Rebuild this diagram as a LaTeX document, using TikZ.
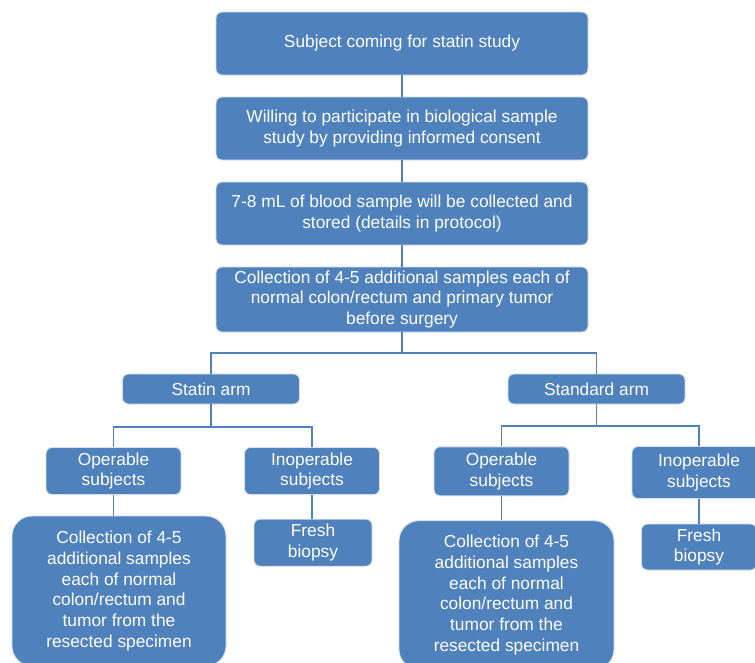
\documentclass[tikz,border=0pt]{standalone}
\usepackage{fontspec}
\setmainfont{Liberation Sans}
\definecolor{BoxBlue}{RGB}{79,129,189}
\usetikzlibrary{positioning,calc}
\tikzset{>=latex}
\tikzset{mybox/.style={rectangle,rounded corners=4.5pt,fill=BoxBlue,draw=white!75!BoxBlue,line width=.7pt,text=white,align=center,inner sep=2pt,font=\fontsize{13}{15.6}\selectfont}}
\tikzset{bigbox/.style={mybox,rounded corners=15pt}}
\tikzset{myedges/.style={draw=BoxBlue,line width=1.4pt}}
\begin{document}
\begin{tikzpicture}[x=0.75pt,y=-0.75pt]
    \clip (0,0) rectangle (755,662);
    % main column
    \node[mybox, minimum width=279pt, minimum height=47.25pt] (subj) at (402,43.5) {Subject coming for statin study};
    \node[mybox, minimum width=279pt, minimum height=47.25pt] (will) at (402,128.5) {Willing to participate in biological sample\\study by providing informed consent};
    \node[mybox, minimum width=279pt, minimum height=47.25pt] (blood) at (402,213.5) {7-8 mL of blood sample will be collected and\\stored (details in protocol)};
    \node[mybox, minimum width=279pt, minimum height=48.75pt] (coll) at (402,299.5) {Collection of 4-5 additional samples each of\\normal colon/rectum and primary tumor\\before surgery};
    % arms
    \node[mybox, minimum width=132.75pt, minimum height=22.5pt] (statin) at (211,389) {Statin arm};
    \node[mybox, minimum width=132.75pt, minimum height=22.5pt] (standard) at (596.5,389) {Standard arm};
    % statin arm
    \node[mybox, minimum width=101.25pt, minimum height=35.25pt] (opS) at (113.5,471) {Operable\\subjects};
    \node[mybox, minimum width=101.25pt, minimum height=35.25pt] (inopS) at (312,471) {Inoperable\\subjects};
    \node[bigbox, minimum width=160.5pt, minimum height=112.5pt] (resS) at (119,591) {Collection of 4-5\\additional samples\\each of normal\\colon/rectum and\\tumor from the\\resected specimen};
    \node[mybox, minimum width=88.5pt, minimum height=35.25pt] (bioS) at (313,542.7) {Fresh\\biopsy};
    % standard arm
    \node[mybox, minimum width=101.25pt, minimum height=36.75pt] (opT) at (501.5,471.3) {Operable\\subjects};
    \node[mybox, minimum width=100.5pt, minimum height=39pt] (inopT) at (699,472.5) {Inoperable\\subjects};
    \node[bigbox, minimum width=161.25pt, minimum height=111.5pt] (resT) at (506.5,595) {Collection of 4-5\\additional samples\\each of normal\\colon/rectum and\\tumor from the\\resected specimen};
    \node[mybox, minimum width=86.25pt, minimum height=34.5pt] (bioT) at (699,547) {Fresh\\biopsy};
    % connectors
    \coordinate (splitA) at (402,352.7);
    \coordinate (splitS) at (211,427.3);
    \coordinate (splitT) at (596.5,425.7);
    \draw[myedges] (subj) -- (will);
    \draw[myedges] (will) -- (blood);
    \draw[myedges] (blood) -- (coll);
    \draw[myedges] (coll) -- (splitA);
    \draw[myedges] (statin.north) |- (splitA) -| (standard.north);
    \draw[myedges] (statin) -- (splitS);
    \draw[myedges] (opS.north) |- (splitS) -| (inopS.north);
    \draw[myedges] (standard) -- (splitT);
    \draw[myedges] (opT.north) |- (splitT) -| (inopT.north);
    \draw[myedges] (opS.south) -- (opS.south |- resS.north);
    \draw[myedges] (inopS.south) -- (inopS.south |- bioS.north);
    \draw[myedges] (opT.south) -- (opT.south |- resT.north);
    \draw[myedges] (inopT.south) -- (inopT.south |- bioT.north);
\end{tikzpicture}
\end{document}
